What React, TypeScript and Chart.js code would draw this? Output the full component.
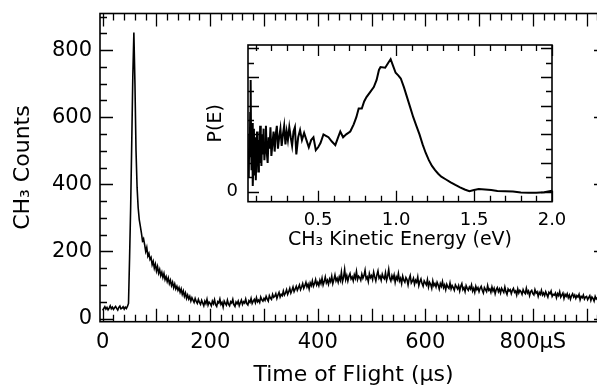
import React, { useEffect, useRef } from "react";
import { Chart, registerables } from "chart.js";

Chart.register(...registerables);

// ---------- Main time-of-flight spectrum ----------
const TOF_START_US = 0;
const TOF_STEP_US = 2;
const TOF_COUNTS = [
  24, 30, 35, 28, 33, 26, 31, 38, 29, 34,
  27, 32, 36, 30, 25, 33, 37, 29, 31, 35,
  28, 34, 30, 36,
  45, 180, 330, 520, 720, 852, 700, 500, 390, 330,
  295, 275, 255, 232, 238, 220, 200, 212, 186, 194,
  176, 182, 160, 170, 150, 162,
  142, 155, 135, 146, 128, 138, 122, 134, 116, 125,
  110, 121, 104, 114, 98, 108, 92, 103, 88, 96,
  84, 92, 78, 88, 72, 82, 66, 76, 60, 70,
  58, 66, 52, 62, 55, 48, 60, 51, 45, 57,
  48, 42, 54, 46, 38, 52, 44, 57, 40, 49,
  45, 38, 52, 44, 56, 41, 36, 50, 46, 58,
  42, 48, 34, 52, 45, 40, 55, 43, 38, 50,
  46, 57, 41, 36, 49, 44, 52, 38, 47, 55,
  42, 50, 46, 58, 44, 40, 53, 48, 60, 45,
  52, 57, 47, 62, 50, 55, 48, 64, 56, 52,
  60, 54, 66, 58, 52, 68, 61, 57, 72, 63,
  66, 74, 60, 70, 78, 64, 72, 68, 82, 70,
  76, 86, 72, 80, 90, 76, 84, 94, 80, 88,
  96, 84, 92, 100, 86, 94, 104, 90, 98, 108,
  94, 102, 88, 106, 98, 112, 96, 104, 116, 100,
  108, 98, 114, 104, 120, 100, 110, 124, 106, 114,
  102, 118, 110, 126, 104, 116, 130, 112, 120, 108,
  124, 114, 138, 110, 122, 146, 116, 128, 112, 126,
  134, 118, 124, 112, 130, 120, 140, 116, 126, 122,
  114, 132, 120, 128, 144, 118, 124, 110, 134, 122,
  128, 116, 138, 124, 112, 130, 142, 120, 126, 114,
  132, 122, 118, 136, 114, 126, 146, 120, 112, 128,
  118, 130, 108, 124, 116, 134, 112, 120, 104, 126,
  114, 108, 122, 116, 100, 118, 128, 106, 112, 120,
  102, 114, 108, 124, 98, 110, 118, 104, 96, 112,
  106, 100, 116, 94, 108, 102, 90, 112, 98, 104,
  94, 108, 100, 88, 104, 96, 110, 92, 100, 86,
  102, 94, 90, 106, 88, 98, 92, 84, 100, 94,
  88, 98, 82, 96, 104, 86, 92, 80, 98, 90,
  84, 94, 88, 100, 82, 90, 78, 96, 86, 92,
  80, 90, 96, 84, 76, 92, 86, 80, 98, 84,
  88, 78, 94, 82, 90, 74, 86, 92, 80, 88,
  76, 90, 84, 78, 94, 80, 72, 88, 82, 86,
  74, 84, 90, 78, 82, 70, 88, 76, 84, 80,
  72, 86, 78, 74, 90, 76, 82, 68, 80, 84,
  74, 70, 86, 76, 80, 66, 78, 72, 84, 70,
  76, 68, 80, 72, 64, 78, 74, 82, 66, 72,
  70, 76, 62, 74, 68, 80, 64, 70, 76, 60,
  72, 66, 74, 62, 70, 58, 68, 74, 64, 70,
  60, 68, 64, 72, 56, 66, 62, 70, 58, 64,
  66, 56, 62, 68, 54, 64, 60, 52, 66, 58,
  62, 54, 60, 56, 64, 52, 58, 60,
];
const TOF_TICK_VALUES = [0, 200, 400, 600, 800];
const TOF_TICK_LABELS = ["0", "200", "400", "600", "800\u03BCS"];
const COUNT_TICK_VALUES = [0, 200, 400, 600, 800];

// ---------- Inset: kinetic energy distribution ----------
const KE_EV = [
  0.052, 0.055, 0.058, 0.061, 0.064, 0.067, 0.07, 0.073, 0.076, 0.079,
  0.082, 0.085, 0.088, 0.091, 0.094, 0.097, 0.1, 0.104, 0.108, 0.112,
  0.116, 0.12, 0.124, 0.128, 0.132, 0.136, 0.14, 0.145, 0.15, 0.155,
  0.16, 0.165, 0.17, 0.176, 0.182, 0.188, 0.194, 0.2, 0.207, 0.214,
  0.221, 0.228, 0.235, 0.242, 0.25, 0.258, 0.266, 0.274, 0.282, 0.29,
  0.298, 0.306, 0.315, 0.324, 0.333, 0.342, 0.351, 0.36, 0.372, 0.384,
  0.396, 0.41, 0.425, 0.44, 0.455, 0.47, 0.485, 0.5, 0.515, 0.534,
  0.55, 0.566, 0.588, 0.61, 0.625, 0.642, 0.66, 0.68, 0.706, 0.728,
  0.745, 0.76, 0.78, 0.795, 0.81, 0.83, 0.857, 0.875, 0.89, 0.9,
  0.93, 0.95, 0.965, 0.98, 0.997, 1.015, 1.03, 1.05, 1.07, 1.09,
  1.11, 1.13, 1.15, 1.17, 1.19, 1.21, 1.23, 1.25, 1.27, 1.29,
  1.32, 1.35, 1.38, 1.41, 1.44, 1.47, 1.5, 1.53, 1.57, 1.61,
  1.65, 1.7, 1.75, 1.8, 1.85, 1.9, 1.95, 2.0,
];
const P_E = [
  0.28, 0.1, 0.4, 0.24, 0.55, 0.78, 0.3, 0.15, 0.48, 0.36,
  0.04, 0.22, 0.44, 0.12, 0.3, 0.38, 0.08, 0.26, 0.42, 0.34,
  0.14, 0.36, 0.2, 0.46, 0.3, 0.18, 0.4, 0.26, 0.44, 0.22,
  0.3, 0.46, 0.28, 0.2, 0.38, 0.3, 0.45, 0.25, 0.34, 0.42,
  0.28, 0.4, 0.46, 0.3, 0.38, 0.44, 0.32, 0.4, 0.46, 0.33,
  0.42, 0.36, 0.45, 0.38, 0.32, 0.42, 0.45, 0.26, 0.38, 0.43,
  0.36, 0.41, 0.36, 0.31, 0.36, 0.38, 0.29, 0.31, 0.34, 0.4,
  0.39, 0.38, 0.35, 0.325, 0.37, 0.42, 0.38, 0.4, 0.42, 0.47,
  0.52, 0.58, 0.58, 0.63, 0.66, 0.69, 0.73, 0.78, 0.85, 0.87,
  0.865, 0.9, 0.925, 0.88, 0.83, 0.81, 0.79, 0.73, 0.66, 0.59,
  0.52, 0.46, 0.4, 0.33, 0.27, 0.22, 0.18, 0.15, 0.125, 0.105,
  0.085, 0.065, 0.047, 0.03, 0.015, 0.004, 0.012, 0.018, 0.016, 0.012,
  0.005, 0.003, 0.002, -0.006, -0.008, -0.007, -0.004, 0.006,
];
const KE_TICK_VALUES = [0.5, 1.0, 1.5, 2.0];
const KE_TICK_LABELS = ["0.5", "1.0", "1.5", "2.0"];
const PE_TICK_VALUES = [0];

const FONT = "'DejaVu Sans', 'Liberation Sans', Arial, sans-serif";

// Draws the closed frame with inward ticks on all four sides, using the chart's scales.
const frameTicksPlugin = {
  id: "frameTicks",
  afterDraw(chart: any, _args: any, opts: any) {
    const { ctx, chartArea: a, scales } = chart;
    const xs = scales.x;
    const ys = scales.y;
    ctx.save();
    ctx.strokeStyle = "#000";
    ctx.lineWidth = opts.tickWidth;
    ctx.beginPath();
    const each = (min: number, max: number, step: number, majorEvery: number, fn: (v: number, major: boolean) => void) => {
      const i0 = Math.ceil(min / step - 1e-9);
      const i1 = Math.floor(max / step + 1e-9);
      for (let i = i0; i <= i1; i++) fn(i * step, Math.abs(i % majorEvery) === 0);
    };
    each(xs.min, xs.max, opts.xStep, opts.xMajorEvery, (v, major) => {
      const p = Math.round(xs.getPixelForValue(v)) + 0.5;
      const len = major ? opts.majorLen : opts.minorLen;
      ctx.moveTo(p, a.bottom);
      ctx.lineTo(p, a.bottom - len);
      ctx.moveTo(p, a.top);
      ctx.lineTo(p, a.top + len);
    });
    each(ys.min, ys.max, opts.yStep, opts.yMajorEvery, (v, major) => {
      const p = Math.round(ys.getPixelForValue(v)) + 0.5;
      const len = major ? opts.majorLen : opts.minorLen;
      ctx.moveTo(a.left, p);
      ctx.lineTo(a.left + len, p);
      ctx.moveTo(a.right, p);
      ctx.lineTo(a.right - len, p);
    });
    ctx.stroke();
    ctx.lineWidth = opts.frameWidth;
    ctx.strokeRect(a.left, a.top, a.right - a.left, a.bottom - a.top);
    ctx.restore();
  },
};

const noPad = (s: any) => {
  s.paddingTop = 0;
  s.paddingBottom = 0;
  s.paddingLeft = 0;
  s.paddingRight = 0;
};

function mainConfig(): any {
  return {
    type: "line",
    data: {
      datasets: [
        {
          data: TOF_COUNTS.map((c, i) => ({ x: TOF_START_US + i * TOF_STEP_US, y: c })),
          borderColor: "#000",
          borderWidth: 1.6,
          pointRadius: 0,
          tension: 0,
          fill: false,
        },
      ],
    },
    plugins: [frameTicksPlugin],
    options: {
      responsive: false,
      animation: false,
      events: [],
      layout: { padding: { top: 13.5, right: 5, left: 0, bottom: 0 } },
      plugins: {
        legend: { display: false },
        tooltip: { enabled: false },
        frameTicks: { xStep: 20, xMajorEvery: 5, yStep: 50, yMajorEvery: 4, majorLen: 13, minorLen: 7, tickWidth: 1.3, frameWidth: 1.6 },
      },
      scales: {
        x: {
          type: "linear",
          min: -5,
          max: 938,
          afterBuildTicks: (s: any) => { s.ticks = TOF_TICK_VALUES.map((v) => ({ value: v })); },
          afterFit: (s: any) => { s.height = 66.3; noPad(s); },
          grid: { display: false, drawTicks: false },
          border: { display: false },
          ticks: {
            padding: 8,
            color: "#000",
            maxRotation: 0,
            autoSkip: false,
            font: { family: FONT, size: 21 },
            callback: (v: number) => TOF_TICK_LABELS[TOF_TICK_VALUES.indexOf(v)] ?? "",
          },
          title: { display: true, text: "Time of Flight (\u03BCs)", color: "#000", font: { family: FONT, size: 22 }, padding: { top: 0, bottom: 0 } },
        },
        y: {
          type: "linear",
          min: -9.5,
          max: 909,
          afterBuildTicks: (s: any) => { s.ticks = COUNT_TICK_VALUES.map((v) => ({ value: v })); },
          afterFit: (s: any) => { s.width = 100; noPad(s); },
          grid: { display: false, drawTicks: false },
          border: { display: false },
          ticks: { padding: 8, color: "#000", font: { family: FONT, size: 21 }, callback: (v: number) => String(v) },
          title: { display: true, text: "CH\u2083 Counts", color: "#000", font: { family: FONT, size: 22 }, padding: { top: 10, bottom: 0 } },
        },
      },
    },
  };
}

function insetConfig(): any {
  return {
    type: "line",
    data: {
      datasets: [
        {
          data: KE_EV.map((e, i) => ({ x: e, y: P_E[i] })),
          borderColor: "#000",
          borderWidth: 2,
          pointRadius: 0,
          tension: 0,
          fill: false,
        },
      ],
    },
    plugins: [frameTicksPlugin],
    options: {
      responsive: false,
      animation: false,
      events: [],
      layout: { padding: { top: 10, right: 18, left: 0, bottom: 0 } },
      plugins: {
        legend: { display: false },
        tooltip: { enabled: false },
        frameTicks: { xStep: 0.1, xMajorEvery: 5, yStep: 0.1, yMajorEvery: 2, majorLen: 11, minorLen: 6, tickWidth: 1.3, frameWidth: 1.6 },
      },
      scales: {
        x: {
          type: "linear",
          min: 0.05,
          max: 2.0,
          afterBuildTicks: (s: any) => { s.ticks = KE_TICK_VALUES.map((v) => ({ value: v })); },
          afterFit: (s: any) => { s.height = 58.3; noPad(s); },
          grid: { display: false, drawTicks: false },
          border: { display: false },
          ticks: {
            padding: 8,
            color: "#000",
            maxRotation: 0,
            autoSkip: false,
            font: { family: FONT, size: 18 },
            callback: (v: number) => KE_TICK_LABELS[KE_TICK_VALUES.indexOf(v)] ?? "",
          },
          title: { display: true, text: "CH\u2083 Kinetic Energy (eV)", color: "#000", font: { family: FONT, size: 19 }, padding: { top: 0, bottom: 8.6 } },
        },
        y: {
          type: "linear",
          min: -0.07,
          max: 1.024,
          afterBuildTicks: (s: any) => { s.ticks = PE_TICK_VALUES.map((v) => ({ value: v })); },
          afterFit: (s: any) => { s.width = 58; noPad(s); },
          grid: { display: false, drawTicks: false },
          border: { display: false },
          ticks: { padding: 10, color: "#000", font: { family: FONT, size: 18 }, callback: (v: number) => String(v) },
          title: { display: true, text: "P(E)", color: "#000", font: { family: FONT, size: 19 }, padding: { top: 14.6, bottom: 0 } },
        },
      },
    },
  };
}

export default function App() {
  const mainRef = useRef<HTMLCanvasElement>(null);
  const insetRef = useRef<HTMLCanvasElement>(null);

  useEffect(() => {
    const main = new Chart(mainRef.current as HTMLCanvasElement, mainConfig());
    const inset = new Chart(insetRef.current as HTMLCanvasElement, insetConfig());
    return () => {
      main.destroy();
      inset.destroy();
    };
  }, []);

  return (
    <div style={{ position: "fixed", left: 0, top: 0, width: 597, height: 388, overflow: "hidden", background: "#fff" }}>
      <canvas ref={mainRef} width={612} height={388} style={{ position: "absolute", left: 0, top: 0 }} />
      <canvas ref={insetRef} width={380} height={225} style={{ position: "absolute", left: 190, top: 35 }} />
    </div>
  );
}
